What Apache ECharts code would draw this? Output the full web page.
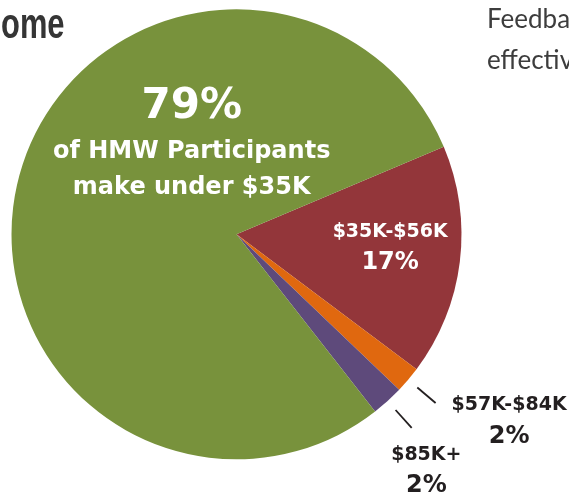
<!DOCTYPE html>
<html>
<head>
<meta charset="utf-8">
<script src="https://cdn.jsdelivr.net/npm/echarts@6/dist/echarts.min.js"></script>
<style>
html,body{margin:0;padding:0;background:#ffffff;}
#c{width:569px;height:494px;}
</style>
</head>
<body>
<div id="c"></div>
<script>
// ---- data ----
const categories = ['$35K-$56K', '$57K-$84K', '$85K+', 'under $35K'];
const values = [16.6, 1.9, 2.3, 79.2];
const colors = ['#93363a', '#e0680f', '#5e4a7b', '#78923c'];
const mainCaption = ['of HMW Participants', 'make under $35K'];
const headingText = 'Income';
const sideText = ['Feedback', 'effective'];

// ---- chart ----
const FONT = '"DejaVu Sans", sans-serif';
const DARK = '#231f20';
const chart = echarts.init(document.getElementById('c'), null, { renderer: 'canvas' });

function pct(p) { return Math.round(p.percent) + '%'; }

const rich = {
  big: { fontFamily: FONT, fontWeight: 'bold', fontSize: 42, lineHeight: 54, color: '#fff', align: 'center' },
  cap: { fontFamily: FONT, fontWeight: 'bold', fontSize: 24, lineHeight: 36, color: '#fff', align: 'center' },
  n:   { fontFamily: FONT, fontWeight: 'bold', fontSize: 19, lineHeight: 31, color: '#fff', align: 'center' },
  p:   { fontFamily: FONT, fontWeight: 'bold', fontSize: 24, lineHeight: 31, color: '#fff', align: 'center' },
  on:  { fontFamily: FONT, fontWeight: 'bold', fontSize: 19, lineHeight: 31, color: DARK, align: 'center' },
  op:  { fontFamily: FONT, fontWeight: 'bold', fontSize: 24, lineHeight: 31, color: DARK, align: 'center' }
};

const CENTER = [236.5, 234.3];
const START = 22.9;

const innerData = categories.map((name, i) => {
  const d = { name: name, value: values[i], itemStyle: { color: colors[i] } };
  if (i === 0) {
    d.label = { show: true, position: 'inside', padding: [0, 0, 2, 78],
      formatter: p => '{n|' + p.name + '}\n{p|' + pct(p) + '}' };
  } else if (i === 3) {
    d.label = { show: true, position: 'inside', padding: [0, 0, 125, 134],
      formatter: p => '{big|' + pct(p) + '}\n{cap|' + mainCaption[0] + '}\n{cap|' + mainCaption[1] + '}' };
  } else {
    d.label = { show: false };
  }
  return d;
});

const outerPad = { 1: [36, 0, 0, 11], 2: [85, 0, 0, 0] };
const outerDist = { 1: 5, 2: -20.5 };
const outerData = categories.map((name, i) => {
  const d = { name: name, value: values[i] };
  if (i === 1 || i === 2) {
    d.label = { show: true, position: 'outside', padding: outerPad[i], distanceToLabelLine: outerDist[i],
      formatter: p => '{on|' + p.name + '}\n{op|' + pct(p) + '}' };
    d.labelLine = { show: true };
  } else {
    d.label = { show: false };
    d.labelLine = { show: false };
  }
  return d;
});

chart.setOption({
  animation: false,
  tooltip: { show: false },
  graphic: [
    { type: 'text', x: 64.5, y: 26, scaleX: 0.735, silent: true,
      style: { text: headingText, font: 'bold 42px "Liberation Sans", Arial, sans-serif',
               fill: '#353535', align: 'right', verticalAlign: 'middle' } },
    { type: 'text', x: 487, y: 20, silent: true,
      style: { text: sideText[0], font: '26px Lato, "Open Sans", sans-serif', fill: '#3d3d3d', align: 'left', verticalAlign: 'middle' } },
    { type: 'text', x: 487, y: 61, silent: true,
      style: { text: sideText[1], font: '26px Lato, "Open Sans", sans-serif', fill: '#3d3d3d', align: 'left', verticalAlign: 'middle' } }
  ],
  series: [
    {
      type: 'pie', left: 0, top: 0, right: -300, bottom: -300,
      center: CENTER, radius: 237, startAngle: START, clockwise: true,
      avoidLabelOverlap: false, silent: true, emphasis: { disabled: true },
      labelLayout: { hideOverlap: false },
      itemStyle: { color: 'rgba(0,0,0,0)', borderWidth: 0 },
      label: { show: true, position: 'outside', rich: rich, textBorderWidth: 0, bleedMargin: 0, overflow: 'none' },
      labelLine: { show: true, length: 24, length2: 0, smooth: false,
                   lineStyle: { color: DARK, width: 1.8 } },
      data: outerData, z: 1
    },
    {
      type: 'pie', left: 0, top: 0, right: -300, bottom: -300,
      center: CENTER, radius: 225, startAngle: START, clockwise: true,
      avoidLabelOverlap: false, silent: true, emphasis: { disabled: true },
      labelLayout: { hideOverlap: false },
      itemStyle: { borderWidth: 0 },
      label: { show: false, position: 'inside', rich: rich, textBorderWidth: 0 },
      labelLine: { show: false },
      data: innerData, z: 2
    }
  ]
});
</script>
</body>
</html>
